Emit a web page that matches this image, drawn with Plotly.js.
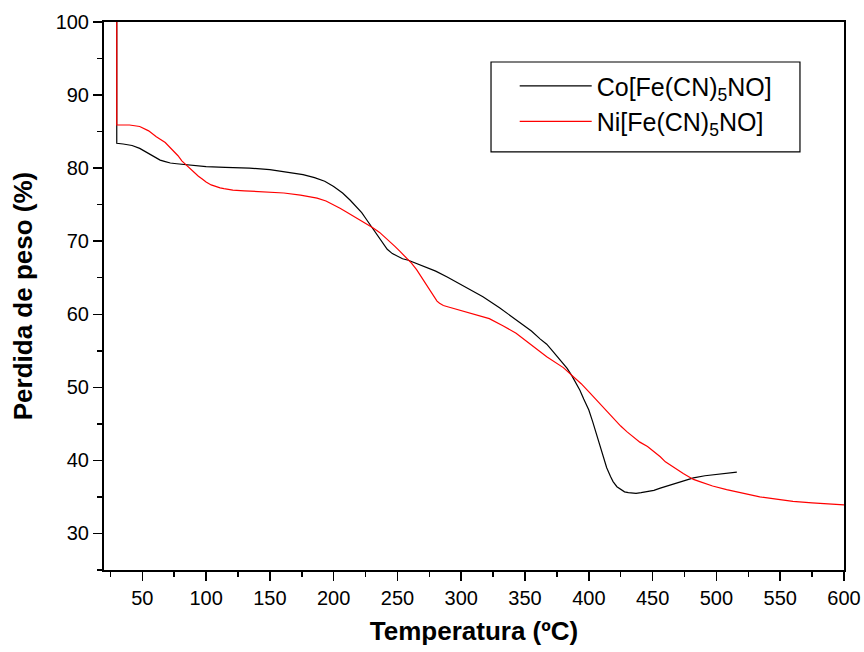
<!DOCTYPE html>
<html>
<head>
<meta charset="utf-8">
<script src="https://cdn.plot.ly/plotly-3.0.1.min.js"></script>
<style>html,body{margin:0;padding:0;background:#fff;}#chart{width:864px;height:652px;}</style>
</head>
<body>
<div id="chart"></div>
<script>
var coName = "Co[Fe(CN)<sub>5</sub>NO]";
var niName = "Ni[Fe(CN)<sub>5</sub>NO]";

var coTemp = [30, 30, 35, 42, 48, 52, 56, 60, 64, 68, 72, 77, 82, 90, 100, 115, 134, 150, 166, 176, 185, 193, 200, 207, 213, 218, 222, 226, 230, 234, 238, 242, 246, 250, 254, 258.5, 264, 270, 280, 289, 300, 308, 317, 330, 343, 355, 362, 367, 371, 375, 379, 383, 387, 390, 393, 396, 400, 403, 406, 409, 412, 414, 417, 419, 422, 425, 428, 431, 434, 437, 441, 446, 451, 456, 463, 470, 476, 482, 491, 500, 508, 516];
var coWeight = [100, 83.4, 83.3, 83.1, 82.7, 82.3, 81.8, 81.4, 81.1, 80.9, 80.7, 80.6, 80.5, 80.4, 80.2, 80.1, 80.0, 79.8, 79.4, 79.1, 78.7, 78.2, 77.5, 76.6, 75.6, 74.7, 73.9, 72.9, 71.9, 70.8, 69.8, 68.9, 68.3, 67.9, 67.6, 67.4, 67.0, 66.6, 65.9, 65.1, 64.0, 63.3, 62.4, 60.9, 59.2, 57.7, 56.6, 55.9, 55.1, 54.3, 53.5, 52.6, 51.5, 50.6, 49.6, 48.4, 46.9, 45.3, 43.6, 41.9, 40.1, 39.0, 37.8, 37.1, 36.4, 36.0, 35.7, 35.6, 35.5, 35.5, 35.6, 35.7, 35.9, 36.2, 36.6, 36.9, 37.3, 37.6, 37.9, 38.1, 38.3, 38.4];

var niTemp = [30, 30, 40, 48, 55, 61, 68, 74, 78, 81, 84, 87, 91, 94, 97, 100, 104, 107, 111, 114, 121, 130, 140, 150, 161, 174, 187, 194, 200, 205, 210, 216, 221, 226, 231, 236, 240, 244, 248, 252, 257, 261, 265, 268, 271, 274, 277, 279, 281, 283, 286, 290, 296, 304, 312, 322, 333, 343, 355, 367, 380, 387, 394, 401, 409, 415, 420, 425, 430, 435, 440, 446, 451, 456, 460, 465, 469, 474, 478, 482, 487, 497, 508, 521, 534, 547, 560, 575, 590, 600];
var niWeight = [100, 85.9, 85.9, 85.7, 85.1, 84.3, 83.5, 82.5, 81.7, 81.0, 80.5, 80.0, 79.4, 78.9, 78.5, 78.1, 77.7, 77.5, 77.3, 77.2, 77.0, 76.9, 76.8, 76.7, 76.6, 76.3, 75.9, 75.5, 75.0, 74.5, 74.0, 73.4, 72.8, 72.3, 71.8, 71.2, 70.6, 70.0, 69.3, 68.6, 67.7, 67.0, 66.1, 65.3, 64.5, 63.7, 62.9, 62.3, 61.8, 61.5, 61.2, 61.0, 60.7, 60.4, 60.0, 59.4, 58.4, 57.4, 55.8, 54.2, 52.7, 51.6, 50.5, 49.2, 47.7, 46.6, 45.6, 44.7, 43.9, 43.2, 42.5, 41.9, 41.2, 40.5, 39.8, 39.2, 38.7, 38.2, 37.8, 37.4, 37.1, 36.5, 36.0, 35.5, 35.0, 34.7, 34.4, 34.2, 34.0, 33.9];

var xTicks = [50, 100, 150, 200, 250, 300, 350, 400, 450, 500, 550, 600];
var yTicks = [30, 40, 50, 60, 70, 80, 90, 100];

var traces = [
  {x: coTemp, y: coWeight, name: coName, type: 'scatter', mode: 'lines',
   line: {color: '#000000', width: 1.2}},
  {x: niTemp, y: niWeight, name: niName, type: 'scatter', mode: 'lines',
   line: {color: '#ff0000', width: 1.2}}
];

var fontFam = '"Liberation Sans", Arial, sans-serif';
var layout = {
  width: 864, height: 652,
  paper_bgcolor: '#ffffff', plot_bgcolor: '#ffffff',
  margin: {l: 104, r: 20, t: 22, b: 82},
  font: {family: fontFam, color: '#000000', size: 20},
  showlegend: true,
  legend: {
    x: 0.555, y: 0.925, xanchor: 'left', yanchor: 'top',
    borderwidth: 0, bgcolor: 'rgba(0,0,0,0)',
    font: {family: fontFam, size: 25, color: '#000000'},
    itemwidth: 72, tracegroupgap: 0
  },
  shapes: [{
    type: 'rect', xref: 'paper', yref: 'paper',
    x0: 0.523, x1: 0.9405, y0: 0.763, y1: 0.927,
    line: {color: '#000000', width: 1.2}, fillcolor: 'rgba(0,0,0,0)', layer: 'above'
  }],
  xaxis: {
    range: [20, 600], tickvals: xTicks, ticks: 'outside', ticklen: 9, tickwidth: 1.5,
    tickcolor: '#000', showline: true, linecolor: '#000', linewidth: 2, mirror: true,
    showgrid: false, zeroline: false,
    tickfont: {family: fontFam, size: 20, color: '#000'},
    minor: {dtick: 25, tick0: 0, ticks: 'outside', ticklen: 5, tickwidth: 1.5, tickcolor: '#000', showgrid: false},
    title: {text: '<b>Temperatura (ºC)</b>', font: {family: fontFam, size: 26, color: '#000'}, standoff: 14}
  },
  yaxis: {
    range: [25, 100], tickvals: yTicks, ticks: 'outside', ticklen: 9, tickwidth: 1.5,
    tickcolor: '#000', showline: true, linecolor: '#000', linewidth: 2, mirror: true,
    showgrid: false, zeroline: false,
    tickfont: {family: fontFam, size: 20, color: '#000'},
    minor: {dtick: 5, tick0: 0, ticks: 'outside', ticklen: 5, tickwidth: 1.5, tickcolor: '#000', showgrid: false},
    title: {text: '<b>Perdida de peso (%)</b>', font: {family: fontFam, size: 26, color: '#000'}, standoff: 16}
  }
};

Plotly.newPlot('chart', traces, layout, {displayModeBar: false, staticPlot: true});
</script>
</body>
</html>
